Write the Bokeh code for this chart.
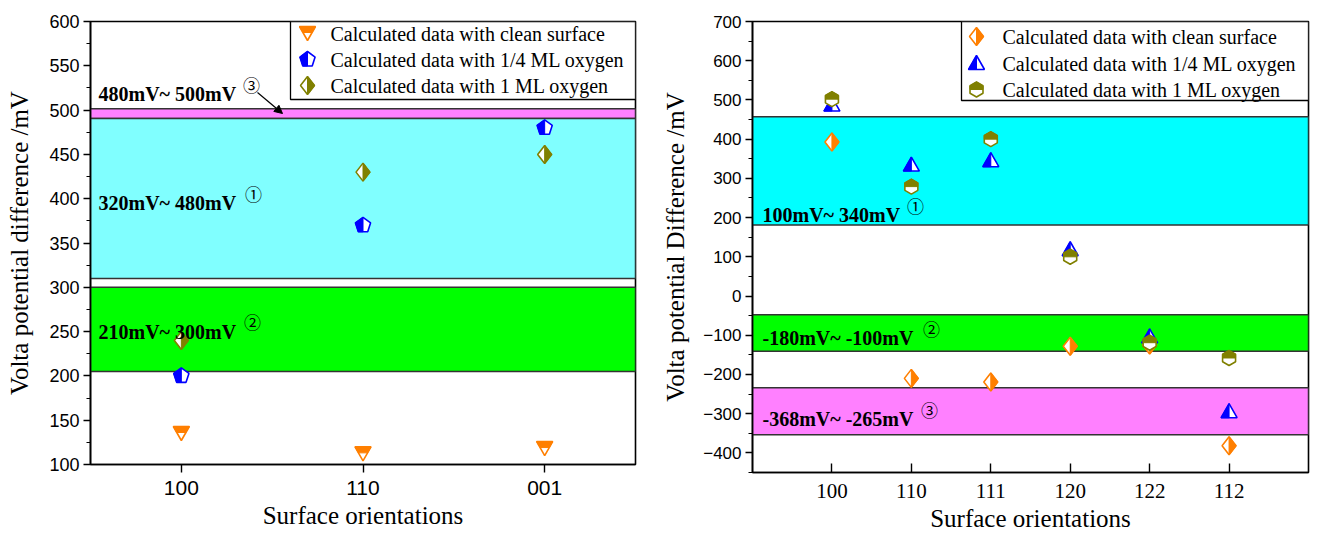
import numpy as np
from bokeh.plotting import figure
from bokeh.layouts import row
from bokeh.models import (Label, Arrow, NormalHead, BoxAnnotation, FixedTicker,
                          SingleIntervalTicker)
from bokeh.embed import file_html
from bokeh.resources import INLINE

# ---------------- panel (a) data ----------------
orient_a = ["100", "110", "001"]
clean_a = [135, 112, 118]
quarter_a = [200, 370, 480]
full_a = [240, 430, 450]
band_a_low = [490.5, 310, 205]
band_a_high = [501.5, 490.5, 300]
band_a_colors = ["#FF80FF", "#80FFFF", "#00FF00"]
band_a_text = ["480mV~ 500mV", "320mV~ 480mV", "210mV~ 300mV"]
band_a_marks = ["③", "①", "②"]

# ---------------- panel (b) data ----------------
orient_b = ["100", "110", "111", "120", "122", "112"]
clean_b = [393, -210, -219, -128, -125, -382]
quarter_b = [487, 334, 345, 118, -104, -295]
full_b = [502, 279, 400, 100, -119, -158]
band_b_low = [181, -141, -354]
band_b_high = [457, -47.5, -234]
band_b_colors = ["#00FFFF", "#00FF00", "#FF80FF"]
band_b_text = ["100mV~ 340mV", "-180mV~ -100mV", "-368mV~ -265mV"]
band_b_marks = ["①", "②", "③"]

legend_text = ["Calculated data with clean surface",
               "Calculated data with 1/4 ML oxygen",
               "Calculated data with 1 ML oxygen"]

ORANGE = "#FF7F00"
BLUE = "#0000FF"
OLIVE = "#808000"

SERIF = "Liberation Serif"
SANS = "Liberation Sans"
CIRC = "Noto Sans CJK SC"


# ---------------- half-filled marker shapes (pixel offsets, y up) ----------------
def regular(n, r, rot):
    a = np.deg2rad(rot + 360.0 * np.arange(n) / n)
    return list(zip(r * np.cos(a), r * np.sin(a)))


def clip(poly, nx, ny, c):
    """Keep the part of poly where nx*x + ny*y >= c."""
    out = []
    n = len(poly)
    for i in range(n):
        p, q = poly[i], poly[(i + 1) % n]
        fp = nx * p[0] + ny * p[1] - c
        fq = nx * q[0] + ny * q[1] - c
        if fp >= 0:
            out.append(p)
        if (fp >= 0) != (fq >= 0):
            t = fp / (fp - fq)
            out.append((p[0] + t * (q[0] - p[0]), p[1] + t * (q[1] - p[1])))
    return out


SHAPES = {
    "inv_triangle": ([(-8, 7), (8, 7), (0, -7)], (0, 1, 1)),      # top filled
    "pentagon": (regular(5, 8, 90), (-1, 0, 0)),                    # left filled
    "diamond": ([(0, 9), (7, 0), (0, -9), (-7, 0)], (1, 0, 0)),     # right filled
    "triangle": ([(-8, -6), (8, -6), (0, 8)], (-1, 0, 0)),          # left filled
    "hexagon": (regular(6, 7.5, 90), (0, 1, 0)),                    # top filled
}


def add_markers(p, xs, ys, shape, color, kx, ky):
    outline, keep = SHAPES[shape]
    half = clip(outline, *keep)
    oxs = [[x + vx * kx for vx, vy in outline] for x in xs]
    oys = [[y + vy * ky for vx, vy in outline] for y in ys]
    hxs = [[x + vx * kx for vx, vy in half] for x in xs]
    hys = [[y + vy * ky for vx, vy in half] for y in ys]
    p.patches(xs=oxs, ys=oys, fill_color="white", line_color=color, line_width=1.6)
    p.patches(xs=hxs, ys=hys, fill_color=color, line_color=color, line_width=1)


def make_panel(fig_off, left, top, right, bottom, fw, fh, xr, yr, ytick, cats):
    p = figure(frame_width=fw, frame_height=fh, x_range=xr, y_range=yr,
               min_border_left=left, min_border_top=top,
               min_border_right=right, min_border_bottom=bottom,
               output_backend="svg", toolbar_location=None,
               background_fill_color="white", border_fill_color="white")
    p.xgrid.visible = False
    p.ygrid.visible = False
    p.outline_line_color = "black"
    p.outline_line_width = 1.6
    p.outline_line_alpha = 1
    kx = (xr[1] - xr[0]) / fw
    ky = (yr[1] - yr[0]) / fh

    def fx(px):
        return xr[0] + (px - fig_off - left) * kx

    def fy(py):
        return yr[1] - (py - top) * ky

    xpos = list(range(1, len(cats) + 1))
    p.xaxis.ticker = FixedTicker(ticks=xpos)
    p.xaxis.major_label_overrides = {i: c for i, c in zip(xpos, cats)}
    p.xaxis.minor_tick_line_color = None
    p.yaxis.ticker = SingleIntervalTicker(interval=ytick, num_minor_ticks=2)
    for ax in (p.xaxis[0], p.yaxis[0]):
        ax.axis_line_width = 1.6
        ax.major_tick_line_width = 1.4
        ax.minor_tick_line_width = 1.2
        ax.axis_label_text_font = SERIF
        ax.axis_label_text_font_style = "normal"
        ax.axis_label_text_font_size = "25px"
        ax.axis_label_text_color = "black"
        ax.major_label_text_color = "black"
    p.yaxis.major_tick_out = 7
    p.yaxis.major_tick_in = 0
    p.yaxis.minor_tick_out = 4
    p.yaxis.minor_tick_in = 0
    return p, fx, fy, kx, ky, xpos


def add_caption(p, fx, fy, txt, mark, tx, ty, mx, my):
    p.add_layout(Label(x=fx(tx), y=fy(ty), text=txt, text_font=SERIF,
                       text_font_style="bold", text_font_size="20px",
                       text_baseline="middle", text_color="black"))
    p.add_layout(Label(x=fx(mx), y=fy(my), text=mark, text_font=CIRC,
                       text_font_size="17px", text_baseline="middle",
                       text_align="center", text_color="black"))


# ================= panel (a) =================
pa, fxa, fya, kxa, kya, xa = make_panel(0, 90, 21, 24, 69, 545, 443,
                                        (0.5, 3.5), (100, 600), 50, orient_a)
pa.xaxis.major_tick_out = 8
pa.xaxis.major_tick_in = 0
pa.xaxis.major_label_text_font = SANS
pa.xaxis.major_label_text_font_size = "21px"
pa.xaxis.major_label_standoff = 8
pa.yaxis.major_label_text_font = SANS
pa.yaxis.major_label_text_font_size = "18px"
pa.yaxis.major_label_standoff = 4
pa.xaxis.axis_label = "Surface orientations"
pa.yaxis.axis_label = "Volta potential difference /mV"
pa.yaxis.axis_label_standoff = 13
pa.xaxis.axis_label_standoff = 4

pa.quad(left=0.5, right=3.5, bottom=band_a_low, top=band_a_high,
        fill_color=band_a_colors, line_color="#333333", line_width=1.5)

add_markers(pa, xa, clean_a, "inv_triangle", ORANGE, kxa, kya)
add_markers(pa, xa, quarter_a, "pentagon", BLUE, kxa, kya)
add_markers(pa, xa, full_a, "diamond", OLIVE, kxa, kya)

# legend box
pa.add_layout(BoxAnnotation(left=fxa(290), right=3.5, top=600, bottom=fya(99),
                            fill_color="white", fill_alpha=1, line_color="black",
                            line_width=1.3, line_alpha=1, level="underlay"))
for shape, color, py, txt in zip(["inv_triangle", "pentagon", "diamond"],
                                 [ORANGE, BLUE, OLIVE], [33, 59, 85], legend_text):
    add_markers(pa, [fxa(307)], [fya(py)], shape, color, kxa, kya)
    pa.add_layout(Label(x=fxa(330), y=fya(py), text=txt, text_font=SERIF,
                        text_font_size="20px", text_baseline="middle",
                        text_align="left", text_color="black"))

# band captions
for txt, mark, ty, mx, my in zip(band_a_text, band_a_marks, [93, 202, 331],
                                 [251, 253, 252], [84, 193, 321]):
    add_caption(pa, fxa, fya, txt, mark, 98, ty, mx, my)

pa.add_layout(Arrow(end=NormalHead(size=8, fill_color="black", line_color="black"),
                    x_start=fxa(257), y_start=fya(92), x_end=fxa(282), y_end=fya(113),
                    line_width=1.2, line_color="black"))

pa.add_layout(Label(x=fxa(12), y=fya(496), text="(a)", text_font=SERIF,
                    text_font_style="bold", text_font_size="24px",
                    text_baseline="middle", text_color="black"))

# ================= panel (b) =================
pb, fxb, fyb, kxb, kyb, xb = make_panel(659, 93, 15, 10, 67, 556, 451,
                                        (0, 7), (-450, 700), 100, orient_b)
pb.xaxis.major_tick_out = 0
pb.xaxis.major_tick_in = 9
pb.xaxis.major_label_text_font = SERIF
pb.xaxis.major_label_text_font_size = "21px"
pb.xaxis.major_label_standoff = 11
pb.yaxis.major_label_text_font = SANS
pb.yaxis.major_label_text_font_size = "17px"
pb.yaxis.major_label_standoff = 4
pb.xaxis.axis_label = "Surface orientations"
pb.yaxis.axis_label = "Volta potential Difference /mV"
pb.yaxis.axis_label_standoff = 11
pb.xaxis.axis_label_standoff = 4

pb.quad(left=0, right=7, bottom=band_b_low, top=band_b_high,
        fill_color=band_b_colors, line_color="#333333", line_width=1.5)

add_markers(pb, xb, clean_b, "diamond", ORANGE, kxb, kyb)
add_markers(pb, xb, quarter_b, "triangle", BLUE, kxb, kyb)
add_markers(pb, xb, full_b, "hexagon", OLIVE, kxb, kyb)

pb.add_layout(BoxAnnotation(left=fxb(961), right=7, top=700, bottom=fyb(94),
                            fill_color="white", fill_alpha=1, line_color="black",
                            line_width=1.3, line_alpha=1, level="underlay"))
for shape, color, py, txt in zip(["diamond", "triangle", "hexagon"],
                                 [ORANGE, BLUE, OLIVE], [30, 57, 83], legend_text):
    add_markers(pb, [fxb(976)], [fyb(py)], shape, color, kxb, kyb)
    pb.add_layout(Label(x=fxb(1002), y=fyb(py), text=txt, text_font=SERIF,
                        text_font_size="20px", text_baseline="middle",
                        text_align="left", text_color="black"))

for txt, mark, ty, mx, my in zip(band_b_text, band_b_marks, [208, 331, 412],
                                 [915, 931, 929], [199, 322, 403]):
    add_caption(pb, fxb, fyb, txt, mark, 762, ty, mx, my)

pb.add_layout(Label(x=fxb(688), y=fyb(493), text="(b)", text_font=SERIF,
                    text_font_style="bold", text_font_size="24px",
                    text_baseline="middle", text_color="black"))

layout = row(pa, pb, spacing=0)
open("out.html", "w").write(file_html(layout, INLINE))
